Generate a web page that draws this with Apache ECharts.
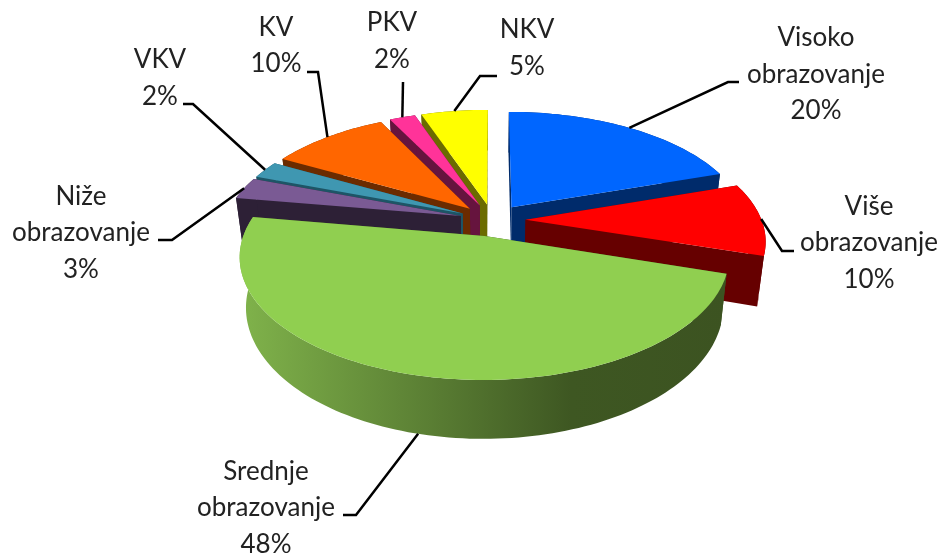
<!DOCTYPE html>
<html>
<head>
<meta charset="utf-8">
<style>
  html, body { margin: 0; padding: 0; background: #fff; }
  #chart { width: 941px; height: 553px; }
</style>
<script src="https://cdn.jsdelivr.net/npm/echarts@6/dist/echarts.min.js"></script>
</head>
<body>
<div id="chart"></div>
<script>
// chart data, clockwise from 12 o'clock
// the printed labels are rounded, so the shares are read from the slice edges
const categories = ["Visoko\nobrazovanje", "Više\nobrazovanje", "Srednje\nobrazovanje", "Niže\nobrazovanje", "VKV", "KV", "PKV", "NKV"];
const shares = [20, 10, 48, 3, 2.4, 9.6, 2.1, 5.4];

const topColors = ["#0066ff", "#ff0000", "#90cf50", "#7a5a94", "#3f97b1", "#ff6600", "#ff3399", "#ffff00"];
const wallColors = ["#002b6b", "#660000", "#3c5321", "#2d2036", "#1d5566", "#6b2b00", "#66143e", "#6b6b00"];

// label centre + leader elbow, in pixels
const labelLayout = [
  { x: 816, y: 74.5, leader: [[728, 82], [739, 82]] },
  { x: 869, y: 243, leader: [[782, 251], [794, 251]] },
  { x: 266, y: 508, leader: [[356, 515], [343, 515]] },
  { x: 81, y: 233, leader: [[172, 240], [158, 240]] },
  { x: 160, y: 78, leader: [[193, 104], [183, 104]] },
  { x: 276, y: 45.5, leader: [[318, 72], [307, 72]] },
  { x: 392, y: 41, leader: [[403, 82]] },
  { x: 527, y: 48, leader: [[480, 76], [497, 76]] }
];

// draw back to front so the near slices cover the far ones
const drawOrder = [7, 6, 5, 4, 3, 0, 1, 2];

// pie projection
const cx = 492.5, cy = 220;
const radiusX = 236, radiusY = 114.7;
const persp = 0.163;
const thick = 48;
const explode = 0.14;
const baseShrink = 0.975;

const total = shares.reduce((a, b) => a + b, 0);
const slices = [];
let acc = 0;
shares.forEach(function (v, i) {
  const a0 = acc / total * Math.PI * 2;
  acc += v;
  const a1 = acc / total * Math.PI * 2;
  slices.push({ a0: a0, a1: a1, mid: (a0 + a1) / 2 });
});

function project(X, Y) {
  const w = 1 - persp * Y;
  return {
    top: [cx + radiusX * X / w, cy + radiusY * Y / w],
    bottom: [cx + baseShrink * radiusX * X / w, cy + radiusY * Y / w + thick / w]
  };
}

function discPoint(s, angle, r) {
  const X = explode * Math.sin(s.mid) + r * Math.sin(angle);
  const Y = -explode * Math.cos(s.mid) - r * Math.cos(angle);
  return project(X, Y);
}

function arcPoints(s, which) {
  const pts = [];
  const steps = Math.max(6, Math.ceil((s.a1 - s.a0) * 40));
  for (let k = 0; k <= steps; k++) {
    pts.push(discPoint(s, s.a0 + (s.a1 - s.a0) * k / steps, 1)[which]);
  }
  return pts;
}

function renderSlice(params) {
  const i = drawOrder[params.dataIndex];
  const s = slices[i];
  const apex = discPoint(s, s.a0, 0);
  const p0 = discPoint(s, s.a0, 1);
  const p1 = discPoint(s, s.a1, 1);
  const flat = { fill: wallColors[i] };

  // the big slice has the shaded rim in the original
  const rimFill = i === 2 ? new echarts.graphic.LinearGradient(0, 0, 1, 0, [
    { offset: 0, color: "#80b34b" },
    { offset: 0.68, color: "#3e5722" },
    { offset: 1, color: "#3c5321" }
  ]) : wallColors[i];

  const topArc = arcPoints(s, "top");
  const rim = topArc.concat(arcPoints(s, "bottom").reverse());

  return {
    type: "group",
    children: [
      { type: "polygon", shape: { points: [apex.top, p0.top, p0.bottom, apex.bottom] }, style: flat },
      { type: "polygon", shape: { points: [apex.top, p1.top, p1.bottom, apex.bottom] }, style: flat },
      { type: "polygon", shape: { points: rim }, style: { fill: rimFill } },
      { type: "polygon", shape: { points: [apex.top].concat(topArc) }, style: { fill: topColors[i] } }
    ]
  };
}

function renderLabel(params) {
  const i = params.dataIndex;
  const s = slices[i];
  const lay = labelLayout[i];
  const a = discPoint(s, s.mid, 1);
  // the leader of the big slice starts on the rim, the rest on the top edge
  const start = i === 2 ? a.bottom : a.top;
  return {
    type: "group",
    children: [
      {
        type: "polyline",
        shape: { points: [start].concat(lay.leader) },
        style: { stroke: "#000", lineWidth: 2.5, fill: null }
      },
      {
        type: "text",
        x: lay.x,
        y: lay.y,
        style: {
          text: categories[i] + "\n" + Math.round(shares[i]) + "%",
          font: "26px Lato",
          lineHeight: 36.5,
          fill: "#222",
          align: "center",
          verticalAlign: "middle"
        }
      }
    ]
  };
}

const chart = echarts.init(document.getElementById("chart"));
chart.setOption({
  animation: false,
  backgroundColor: "#fff",
  series: [
    {
      type: "custom",
      coordinateSystem: "none",
      data: drawOrder.map(function (i) { return shares[i]; }),
      renderItem: renderSlice,
      silent: true
    },
    {
      type: "custom",
      coordinateSystem: "none",
      z: 3,
      data: shares,
      renderItem: renderLabel,
      silent: true
    }
  ]
});
</script>
</body>
</html>
